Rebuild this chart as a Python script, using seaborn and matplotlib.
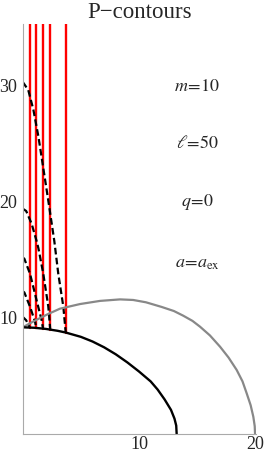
import numpy as np
import pandas as pd
import matplotlib
matplotlib.use("Agg")
import matplotlib.pyplot as plt
import seaborn as sns

# black horizon-like curve (x, y)
black_x = [0.0, 1.0, 2.0, 3.0, 3.7, 5.0, 6.0, 7.0, 8.0, 9.0, 10.0, 11.0, 11.6, 12.2, 12.75, 13.05, 13.2, 13.24]
black_y = [9.2, 9.16, 9.06, 8.9, 8.75, 8.38, 7.98, 7.48, 6.88, 6.18, 5.4, 4.55, 3.85, 3.0, 2.1, 1.35, 0.75, 0.0]

# gray outer curve
gray_x = [0.0, 1.0, 2.2, 3.2, 4.93, 6.65, 8.37, 9.5, 10.6, 11.95, 13.0, 13.8, 14.6, 15.25, 16.1,
          16.97, 17.7, 18.4, 18.9, 19.26, 19.6, 19.83, 19.95, 19.98]
gray_y = [9.2, 9.75, 10.35, 10.8, 11.2, 11.47, 11.6, 11.55, 11.35, 10.95, 10.6, 10.2, 9.75, 9.25, 8.5,
          7.53, 6.6, 5.53, 4.55, 3.52, 2.5, 1.51, 0.7, 0.0]

# red vertical P-contours: x position and lower end on black curve
red_x = [0.60, 1.17, 1.75, 2.37, 3.70]
red_ybot = [9.18, 9.14, 9.08, 9.0, 8.75]
y_top = 35.3

# dashed contours
dash_curves = {
    "A": ([0.0, 0.48, 0.92, 1.35, 1.63, 2.2, 2.72, 3.06, 3.49, 3.70],
          [30.3, 29.6, 27.9, 25.6, 23.8, 20.1, 16.6, 13.8, 11.0, 8.75]),
    "B": ([0.0, 0.3, 0.77, 1.2, 1.35, 1.77, 2.2, 2.37],
          [19.4, 19.2, 18.1, 16.6, 16.0, 13.8, 11.0, 9.0]),
    "C": ([0.0, 0.14, 0.63, 1.2, 1.63, 1.75],
          [15.2, 15.1, 13.8, 11.5, 9.8, 9.08]),
    "D": ([0.0, 0.14, 0.63, 1.06, 1.17],
          [12.3, 12.2, 10.97, 9.68, 9.14]),
    "E": ([0.0, 0.3, 0.60],
          [10.1, 9.8, 9.18]),
}

title = "P\u2212contours"
labels = [r"$m\!=\!10$", r"$\ell\!=\!50$", r"$q\!=\!0$", r"$a\!=\!a_{\mathrm{ex}}$"]
label_y = [29.9, 25.0, 20.0, 14.7]

sns.set_style("white")
plt.rcParams["font.family"] = ["Liberation Serif", "DejaVu Serif"]
plt.rcParams["mathtext.fontset"] = "stix"

fig = plt.figure(figsize=(2.67, 4.58), dpi=100)
px = 11.63
ax = fig.add_axes([22.7 / 267, (458 - 434.3) / 458, 20.1 * px / 267, y_top * px / 458])

for xr, yb in zip(red_x, red_ybot):
    sns.lineplot(x=[xr, xr], y=[yb, y_top], ax=ax, color="#ff0000", lw=1.7,
                 sort=False, estimator=None)

for name, (xs, ys) in dash_curves.items():
    sns.lineplot(x=xs, y=ys, ax=ax, color="black", lw=1.6, sort=False, estimator=None)
    ax.lines[-1].set_dashes((3.0, 1.5))

sns.lineplot(x=gray_x, y=gray_y, ax=ax, color="#888888", lw=1.6, sort=False, estimator=None)
sns.lineplot(x=black_x, y=black_y, ax=ax, color="black", lw=1.7, sort=False, estimator=None)

ax.set_xlim(0, 20.1)
ax.set_ylim(0, y_top)
ax.set_xticks([10, 20])
ax.set_yticks([10, 20, 30])
for s in ["top", "right"]:
    ax.spines[s].set_visible(False)
for s in ["left", "bottom"]:
    ax.spines[s].set_color("#aaaaaa")
    ax.spines[s].set_linewidth(0.8)
ax.tick_params(direction="in", length=3, width=0.6, color="#999999", labelsize=13)
ax.tick_params(axis="y", pad=4)
ax.tick_params(axis="x", pad=1)
ax.set_xlabel("")
ax.set_ylabel("")

fig.text(140 / 267, 1 - 12 / 458, title, ha="center", va="center", fontsize=16.5)
for lab, yy in zip(labels, label_y):
    ax.text(15.0, yy, lab, ha="center", va="center", fontsize=13)

fig.savefig("out.png", dpi=100)
